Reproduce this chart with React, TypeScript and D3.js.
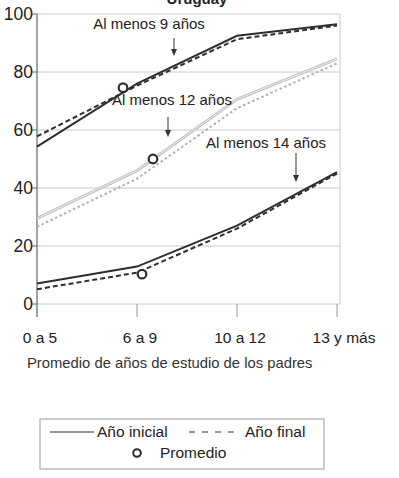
import React from "react";
import * as d3 from "d3";

const categories = ["0 a 5", "6 a 9", "10 a 12", "13 y más"];
const yTicks = [0, 20, 40, 60, 80, 100];

const nueveInicial = [54.3, 76, 92.5, 96.5];
const nueveFinal = [57.8, 75.3, 91.3, 96];
const doceInicial = [29.5, 46, 70.6, 84.5];
const doceFinal = [26.6, 43.2, 67.5, 83];
const catorceInicial = [7.1, 12.9, 27, 45.5];
const catorceFinal = [5.1, 10.8, 26, 45];

const promedioPos = [0.86, 1.16, 1.05];
const promedioValor = [74.6, 50, 10.3];

const etiquetas = ["Al menos 9 años", "Al menos 12 años", "Al menos 14 años"];

const FONT = "'Liberation Sans', Arial, sans-serif";

export default function App() {
  const W = 399, H = 478;
  const left = 37, right = 337, top = 14, bottom = 304;
  const x = d3.scaleLinear().domain([0, categories.length - 1]).range([left, right]);
  const y = d3.scaleLinear().domain([0, 100]).range([bottom, top]);
  const line = d3.line<number>().x((_, i) => x(i)).y((d) => y(d));

  const dark = "#2e2e2e";
  const light = "#c2c2c2";

  const labelPos = [
    { tx: 149, ty: 29, ax: 174, a1: 38, a2: 56 },
    { tx: 172, ty: 105, ax: 168, a1: 117, a2: 137 },
    { tx: 266, ty: 148, ax: 296, a1: 153, a2: 182 },
  ];

  return (
    <svg width={W} height={H} style={{ position: "absolute", left: 0, top: 0, background: "#fff" }}>
      <rect x={0} y={0} width={W} height={H} fill="#fff" />
      <text x={197} y={4} textAnchor="middle" fontFamily={FONT} fontWeight="bold" fontSize={15} fill="#222">Uruguay</text>
      {yTicks.map((t) => (
        <line key={t} x1={left} x2={340} y1={y(t)} y2={y(t)} stroke="#c8c8c8" strokeWidth={1} />
      ))}
      <line x1={340} x2={340} y1={top} y2={bottom} stroke="#c8c8c8" strokeWidth={1} />
      <line x1={left} x2={left} y1={top} y2={bottom + 13} stroke="#666" strokeWidth={1.2} />
      {yTicks.map((t) => (
        <g key={t}>
          <line x1={left - 5} x2={left} y1={y(t)} y2={y(t)} stroke="#666" />
          <text x={33} y={y(t) + 6} textAnchor="end" fontFamily={FONT} fontSize={17.5} fill="#222">{t}</text>
        </g>
      ))}
      {categories.map((c, i) => (
        <g key={c}>
          <line x1={x(i)} x2={x(i)} y1={bottom} y2={bottom + 13} stroke="#999" />
          <text x={x(i) + (i === 3 ? 7 : 3)} y={343} textAnchor="middle" fontFamily={FONT} fontSize={15.5} fill="#222">{c}</text>
        </g>
      ))}
      <text x={27} y={368} fontFamily={FONT} fontSize={14.8} fill="#333">Promedio de años de estudio de los padres</text>

      <path d={line(doceInicial) || ""} fill="none" stroke={light} strokeWidth={3} />
      <path d={line(doceInicial) || ""} fill="none" stroke="#f4f4f4" strokeWidth={0.8} />
      <path d={line(doceFinal) || ""} fill="none" stroke="#b0b0b0" strokeWidth={2} strokeDasharray="2.5,2.5" />
      <path d={line(nueveFinal) || ""} fill="none" stroke={dark} strokeWidth={2} strokeDasharray="5,3" />
      <path d={line(nueveInicial) || ""} fill="none" stroke={dark} strokeWidth={2} />
      <path d={line(catorceFinal) || ""} fill="none" stroke={dark} strokeWidth={2} strokeDasharray="5,3" />
      <path d={line(catorceInicial) || ""} fill="none" stroke={dark} strokeWidth={2} />

      {promedioPos.map((p, i) => (
        <circle key={i} cx={x(p)} cy={y(promedioValor[i])} r={4.3} fill="#fff" stroke={dark} strokeWidth={2.2} />
      ))}

      {etiquetas.map((t, i) => {
        const l = labelPos[i];
        return (
          <g key={t}>
            <text x={l.tx} y={l.ty} textAnchor="middle" fontFamily={FONT} fontSize={15} fill="#222">{t}</text>
            <line x1={l.ax} x2={l.ax} y1={l.a1} y2={l.a2 - 5} stroke="#333" strokeWidth={1} />
            <path d={`M${l.ax - 3},${l.a2 - 7} L${l.ax + 3},${l.a2 - 7} L${l.ax},${l.a2} Z`} fill="#333" />
          </g>
        );
      })}

      <rect x={40} y={419} width={284} height={50} fill="#fff" stroke="#999" strokeWidth={1} />
      <line x1={50} x2={94} y1={432} y2={432} stroke={dark} strokeWidth={1.2} />
      <text x={97} y={437} fontFamily={FONT} fontSize={15.5} fill="#222">Año inicial</text>
      <line x1={189} x2={240} y1={432} y2={432} stroke={dark} strokeWidth={1.2} strokeDasharray="6,7" />
      <text x={245} y={437} fontFamily={FONT} fontSize={15.5} fill="#222">Año final</text>
      <circle cx={137} cy={453} r={3.8} fill="#fff" stroke={dark} strokeWidth={2} />
      <text x={160} y={458} fontFamily={FONT} fontSize={15.5} fill="#222">Promedio</text>
    </svg>
  );
}
